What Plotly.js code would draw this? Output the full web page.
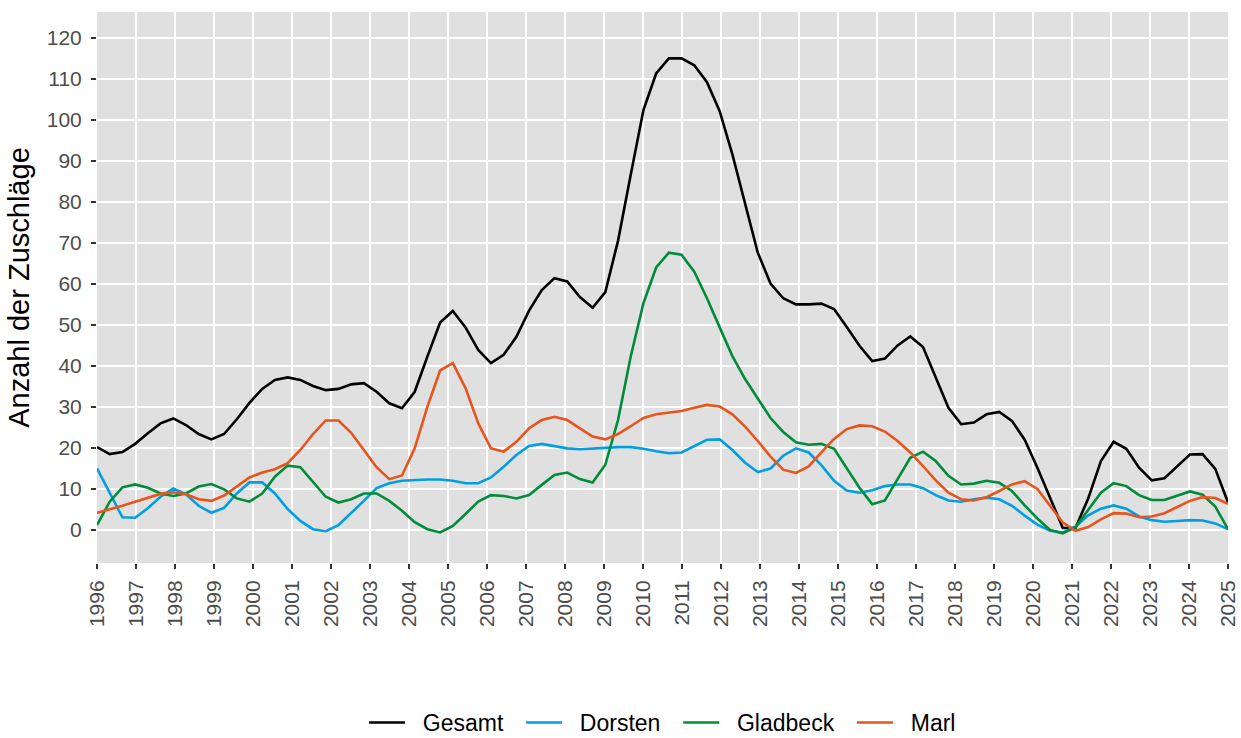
<!DOCTYPE html>
<html>
<head>
<meta charset="utf-8">
<script src="https://cdn.plot.ly/plotly-3.0.1.min.js"></script>
<style>html,body{margin:0;padding:0;background:#fff;}#chart{width:1241px;height:738px;}</style>
</head>
<body>
<div id="chart"></div>
<script>
const seriesNames = ["Gesamt", "Dorsten", "Gladbeck", "Marl"];
const seriesColors = ["#000000", "#009FE3", "#008C3A", "#E8541C"];
const xStart = 1996;
const xEnd = 2025;
const yearTicks = [1996,1997,1998,1999,2000,2001,2002,2003,2004,2005,2006,2007,2008,2009,2010,2011,2012,2013,2014,2015,2016,2017,2018,2019,2020,2021,2022,2023,2024,2025];
const yTicks = [0,10,20,30,40,50,60,70,80,90,100,110,120];

const gesamt = [20.2,18.5,19,21,23.6,26,27.2,25.6,23.4,22.1,23.4,27,31,34.4,36.6,37.2,36.6,35.1,34.1,34.4,35.5,35.8,33.7,30.9,29.7,33.7,42.3,50.6,53.4,49.4,43.9,40.7,42.7,47.1,53.5,58.5,61.4,60.6,56.8,54.2,58,70.5,86.6,102.4,111.3,115,115,113.3,109.2,102.1,91.6,79.4,67.6,60.1,56.5,55,55,55.2,53.9,49.5,44.9,41.2,41.8,45,47.2,44.6,37.2,29.8,25.8,26.2,28.2,28.8,26.6,22,15.2,8,0.5,0.5,7.7,16.8,21.5,19.8,15.2,12.1,12.6,15.5,18.4,18.5,14.9,6.7];
const dorsten = [15,8.9,3.1,3,5.3,8.1,10.1,8.7,5.9,4.2,5.4,8.9,11.6,11.6,8.9,5.1,2.2,0.2,-0.3,1.2,4.1,7.1,10.2,11.4,12,12.2,12.3,12.3,12,11.4,11.4,12.8,15.4,18.3,20.5,21,20.5,19.9,19.7,19.9,20.1,20.2,20.2,19.8,19.2,18.7,18.9,20.4,22,22.1,19.5,16.4,14.1,15,18.1,19.9,18.9,15.8,12,9.6,9.1,9.7,10.7,11.1,11.1,10.2,8.5,7.2,6.9,7.5,7.9,7.5,5.9,3.5,1.3,-0.2,-0.6,0.8,3.6,5.2,6,5.2,3.3,2.4,2,2.2,2.4,2.3,1.6,0.2];
const gladbeck = [1.2,6.9,10.4,11.1,10.3,8.9,8.3,8.9,10.6,11.2,9.9,7.7,6.9,8.9,13,15.7,15.3,11.8,8.1,6.7,7.5,8.9,8.9,7.1,4.7,1.9,0.2,-0.6,1,3.9,6.9,8.5,8.3,7.7,8.5,11,13.4,14,12.4,11.6,15.9,26.8,42.3,55.3,64,67.6,67.1,63,56.5,49.4,42.4,36.8,31.9,27.3,23.9,21.4,20.8,21,19.8,15.2,10.3,6.3,7.2,12.4,17.6,19.1,16.8,13.2,11.1,11.3,12,11.5,9.5,6,2.8,0,-0.8,0.7,4.8,9.1,11.4,10.7,8.5,7.3,7.3,8.4,9.4,8.6,5.7,0.2];
const marl = [4.2,5,5.9,6.9,7.9,8.8,9.2,8.7,7.5,7.1,8.4,10.6,12.8,14,14.8,16.3,19.5,23.4,26.7,26.7,23.7,19.5,15.3,12.4,13.3,19.9,30.1,38.9,40.7,34.6,26,19.9,19.1,21.5,24.8,26.8,27.6,26.8,24.8,22.8,22.1,23.4,25.3,27.3,28.2,28.6,29,29.8,30.5,30.1,28.2,25.2,21.7,17.9,14.7,13.9,15.5,18.9,22.2,24.6,25.5,25.3,24,21.7,18.9,15.6,12.1,9.1,7.5,7.2,8,9.5,11.1,11.9,10,5.9,1.8,-0.2,0.7,2.6,4.1,4,3.1,3.3,4.1,5.6,7.1,8,7.8,6.4];

const allSeries = [gesamt, dorsten, gladbeck, marl];
const n = gesamt.length;
const xs = gesamt.map((_, i) => xStart + i * (xEnd - xStart) / (n - 1));

const nb = '\u00A0';
const traces = allSeries.map((ys, k) => ({
  x: xs, y: ys, type: 'scatter', mode: 'lines',
  name: nb + nb + seriesNames[k] + (k < allSeries.length - 1 ? nb + nb : ''),
  line: {color: seriesColors[k], width: 2.6}
}));

const font = "Liberation Sans, Arial, sans-serif";
const layout = {
  width: 1241, height: 738,
  margin: {l: 97, r: 13, t: 12, b: 175, autoexpand: false},
  paper_bgcolor: '#ffffff',
  plot_bgcolor: '#E0E0E0',
  font: {family: font, color: '#4D4D4D'},
  showlegend: true,
  legend: {
    orientation: 'h', x: 0.5, xanchor: 'center',
    yref: 'container', y: 0.021, yanchor: 'middle',
    font: {family: font, size: 23, color: '#000000'},
    bgcolor: 'rgba(0,0,0,0)', itemwidth: 36, traceorder: 'normal'
  },
  xaxis: {
    range: [xStart, xEnd], tickmode: 'array', tickvals: yearTicks, ticktext: yearTicks.map(String),
    tickangle: -90, tickfont: {family: font, size: 21, color: '#4D4D4D'},
    showgrid: true, gridcolor: '#ffffff', gridwidth: 1.8,
    zeroline: false, showline: false, automargin: false,
    ticks: 'outside', ticklen: 5, tickwidth: 1.5, tickcolor: '#333333', ticklabelstandoff: 3
  },
  yaxis: {
    range: [-8.05, 126.3], tickmode: 'array', tickvals: yTicks,
    tickfont: {family: font, size: 21, color: '#4D4D4D'},
    showgrid: true, gridcolor: '#ffffff', gridwidth: 1.8,
    zeroline: false, showline: false, automargin: false,
    ticks: 'outside', ticklen: 5, tickwidth: 1.5, tickcolor: '#333333', ticklabelstandoff: 5,
    title: {text: 'Anzahl der Zuschläge', font: {family: font, size: 29, color: '#000000'}, standoff: 8}
  }
};

Plotly.newPlot('chart', traces, layout, {displayModeBar: false, staticPlot: true});
</script>
</body>
</html>
